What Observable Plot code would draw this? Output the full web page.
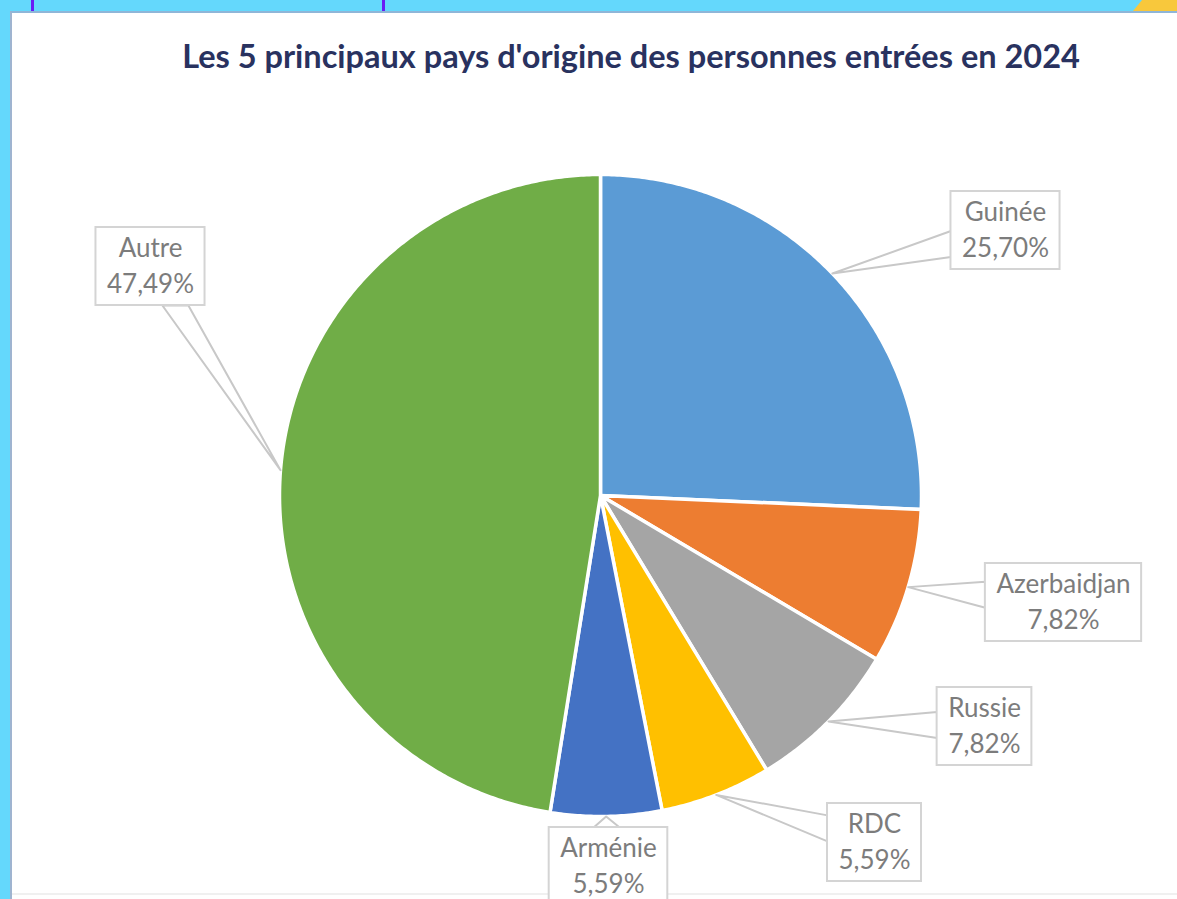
<!DOCTYPE html>
<html>
<head>
<meta charset="utf-8">
<script src="https://cdn.jsdelivr.net/npm/d3@7"></script>
<script src="https://cdn.jsdelivr.net/npm/@observablehq/plot@0.6"></script>
<style>
  html, body { margin: 0; padding: 0; }
  body { width: 1177px; height: 899px; background: #64d8fc; position: relative; overflow: hidden; font-family: Lato, "Open Sans", sans-serif; }
  .panel { position: absolute; left: 10px; top: 11px; right: 0; bottom: 0; background: #ffffff;
           border-top: 2px solid #8fb6d8; border-left: 2px solid #9fb4d0; }
  .panel::after { content: ""; position: absolute; left: 0; right: 0; top: 880px; height: 2px; background: #f0f0f0; }
  .vline { position: absolute; top: 0; width: 3px; height: 11px; background: #6a1cf4; }
  .tri { position: absolute; top: 0; right: 0; width: 44px; height: 11px; background: #f8c83c;
         clip-path: polygon(9px 0, 100% 0, 100% 100%, 0 100%); }
  #chart { position: absolute; left: 0; top: 0; }
</style>
</head>
<body>
<div class="panel"></div>
<div class="vline" style="left:31px"></div>
<div class="vline" style="left:382px"></div>
<div class="tri"></div>
<div id="chart"></div>
<script>
// ---- data ----
const titleText = "Les 5 principaux pays d'origine des personnes entrées en 2024";
const countries = ["Guinée", "Azerbaidjan", "Russie", "RDC", "Arménie", "Autre"];
const shares = [25.70, 7.82, 7.82, 5.59, 5.59, 47.49];
const colors = ["#5B9BD5", "#ED7D31", "#A5A5A5", "#FFC000", "#4472C4", "#70AD47"];

// ---- layout (pixels) ----
const W = 1177, H = 899;
const cx = 600, cy = 495, R = 321;
const labelCenters = [[1005, 230], [1063, 602], [984, 726], [874, 842], [608, 866], [150, 266]];
const labelFont = 26, lineGap = 36, boxH = 78, boxPad = 11;

const fmt = v => v.toFixed(2).replace(".", ",") + "%";

// pie angles from the values (clockwise from 12 o'clock)
const pie = d3.pie().sort(null).value(d => d.share);
const rows = countries.map((c, i) => ({country: c, share: shares[i]}));
const arcs = pie(rows);

// slice polygons
const slicePts = [];
arcs.forEach(a => {
  const n = Math.max(4, Math.ceil((a.endAngle - a.startAngle) / (Math.PI / 360)));
  slicePts.push({country: a.data.country, x: cx, y: cy});
  for (let k = 0; k <= n; k++) {
    const t = a.startAngle + (a.endAngle - a.startAngle) * k / n;
    slicePts.push({country: a.data.country, x: cx + R * Math.sin(t), y: cy - R * Math.cos(t)});
  }
});

// label boxes (width from measured text)
const ctx = document.createElement("canvas").getContext("2d");
ctx.font = `${labelFont}px Lato`;
const labels = arcs.map((a, i) => {
  const [lx, ly] = labelCenters[i];
  const t1 = a.data.country, t2 = fmt(a.data.share);
  const w = Math.max(ctx.measureText(t1).width, ctx.measureText(t2).width) + 2 * boxPad;
  const mid = (a.startAngle + a.endAngle) / 2;
  return {country: t1, pct: t2, x: lx, y: ly, x1: lx - w / 2, x2: lx + w / 2, y1: ly - boxH / 2, y2: ly + boxH / 2,
          tipX: cx + R * Math.sin(mid), tipY: cy - R * Math.cos(mid)};
});

// wedge callouts: from the slice mid-angle on the rim to the box edge
const wedgePts = [];
labels.forEach(l => {
  const dx = l.tipX - l.x, dy = l.tipY - l.y;
  const hw = (l.x2 - l.x1) / 2, hh = boxH / 2;
  const s = Math.min(Math.abs(hw / (dx || 1e-9)), Math.abs(hh / (dy || 1e-9)));
  const ax = l.x + dx * s, ay = l.y + dy * s;
  const horizontalEdge = Math.abs(hh / (dy || 1e-9)) <= Math.abs(hw / (dx || 1e-9));
  const b = 13;
  const p1 = horizontalEdge ? [ax - b, ay] : [ax, ay - b];
  const p2 = horizontalEdge ? [ax + b, ay] : [ax, ay + b];
  wedgePts.push({country: l.country, x: l.tipX, y: l.tipY});
  wedgePts.push({country: l.country, x: p1[0], y: p1[1]});
  wedgePts.push({country: l.country, x: p2[0], y: p2[1]});
});

const chart = Plot.plot({
  width: W, height: H,
  margin: 0,
  x: {domain: [0, W], range: [0, W], axis: null},
  y: {domain: [0, H], range: [0, H], axis: null},
  color: {domain: countries, range: colors},
  style: {background: "transparent", fontFamily: "Lato, 'Open Sans', sans-serif"},
  marks: [
    Plot.line(slicePts, {x: "x", y: "y", z: "country", fill: "country", stroke: "white", strokeWidth: 3.5,
      curve: "linear-closed", strokeLinejoin: "round"}),
    Plot.line(wedgePts, {x: "x", y: "y", z: "country", fill: "white", fillOpacity: 0.9, stroke: "#c8c8c8",
      strokeWidth: 2, curve: "linear-closed"}),
    Plot.rect(labels, {x1: "x1", x2: "x2", y1: "y1", y2: "y2", fill: "white", stroke: "#d4d4d4", strokeWidth: 2}),
    Plot.text(labels, {x: "x", y: "y", dy: -lineGap / 2, text: "country", fill: "#7c7c7c", fontSize: labelFont}),
    Plot.text(labels, {x: "x", y: "y", dy: lineGap / 2, text: "pct", fill: "#7c7c7c", fontSize: labelFont}),
    Plot.text([titleText], {frameAnchor: "top", dx: 42, dy: 57, text: d => d, lineAnchor: "middle",
      fontSize: 32.5, fontWeight: "bold", fill: "#29325f"})
  ]
});
document.getElementById("chart").appendChild(chart);
</script>
</body>
</html>
